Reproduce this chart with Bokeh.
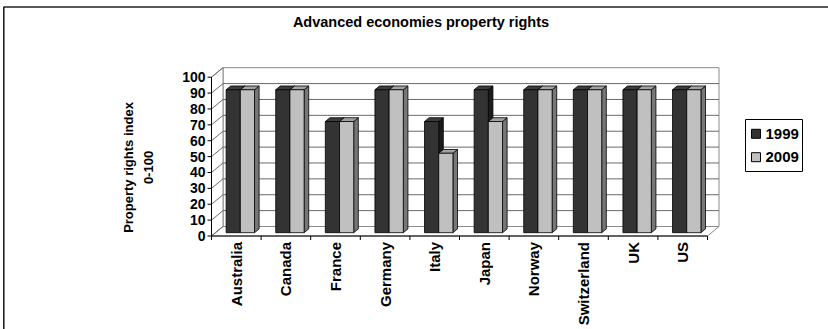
import numpy as np
from bokeh.plotting import figure
from bokeh.models import Range1d
from bokeh.core.properties import value
from bokeh.embed import file_html
from bokeh.resources import INLINE

# ---------------- data ----------------
categories = ["Australia", "Canada", "France", "Germany", "Italy",
              "Japan", "Norway", "Switzerland", "UK", "US"]
v1999 = [90, 90, 70, 90, 70, 90, 90, 90, 90, 90]
v2009 = [90, 90, 70, 90, 50, 70, 90, 90, 90, 90]
series_names = ["1999", "2009"]
y_ticks = [0, 10, 20, 30, 40, 50, 60, 70, 80, 90, 100]
title = "Advanced economies property rights"
y_title = ["Property rights index", "0-100"]

# ---------------- layout (pixels of the 828x329 page) ----------------
W, H = 828, 329
X0, CW = 211.0, 49.6      # px of category-axis start, px per category
Y0, VS = 235.5, 1.588     # px of value 0 (front), px per value unit
DXp, DYp = 11.5, 9.5      # 3-D depth offset in px

def px2x(px):
    return (px - X0) / CW

def px2y(py):
    return (Y0 - py) / VS

DX = DXp / CW
DY = DYp / VS
n = len(categories)
vmax = y_ticks[-1]

p = figure(width=W, height=H, x_range=Range1d(px2x(0), px2x(W)),
           y_range=Range1d(px2y(H), px2y(0)), min_border=0,
           toolbar_location=None, output_backend="svg")
p.axis.visible = False
p.grid.visible = False
p.outline_line_color = None
p.background_fill_color = "white"

FONT = value("Liberation Sans")
GRID = "#6a6a6a"
EDGE = "#8a8a8a"

# outer chart border (top and left edges visible)
p.segment(x0=[px2x(3), px2x(3.3)], y0=[px2y(6.5), px2y(6.5)],
          x1=[px2x(W), px2x(3.3)], y1=[px2y(6.5), px2y(H)],
          line_color="#222222", line_width=1.6)

# walls
p.patch(x=[DX, n + DX, n + DX, DX], y=[DY, DY, vmax + DY, vmax + DY],
        fill_color="white", line_color=EDGE, line_width=1)
p.patch(x=[0, DX, DX, 0], y=[0, DY, vmax + DY, vmax],
        fill_color="white", line_color=EDGE, line_width=1)
p.patch(x=[0, n, n + DX, DX], y=[0, 0, DY, DY],
        fill_color="white", line_color=EDGE, line_width=1)

# gridlines on back wall and side wall
gv = y_ticks[1:-1]
p.segment(x0=[DX] * len(gv), y0=[v + DY for v in gv],
          x1=[n + DX] * len(gv), y1=[v + DY for v in gv],
          line_color=GRID, line_width=1)
p.segment(x0=[0] * len(y_ticks), y0=y_ticks,
          x1=[DX] * len(y_ticks), y1=[v + DY for v in y_ticks],
          line_color=GRID, line_width=1)

# axes lines + ticks
p.segment(x0=[0, 0], y0=[0, 0], x1=[0, n], y1=[vmax, 0],
          line_color="black", line_width=1)
p.segment(x0=[0] * len(y_ticks), y0=y_ticks,
          x1=[px2x(X0 - 4)] * len(y_ticks), y1=y_ticks,
          line_color="black", line_width=1)
p.segment(x0=list(range(n + 1)), y0=[0] * (n + 1),
          x1=list(range(n + 1)), y1=[px2y(Y0 + 4)] * (n + 1),
          line_color="black", line_width=1)

# bars
BW = 14.2 / CW
F0, F1 = 0.35, 0.75
styles = [
    dict(front="#333333", top="#3d3d3d", side="#1c1c1c"),
    dict(front="#c0c0c0", top="#a2a2a2", side="#777777"),
]
for s, vals in enumerate([v1999, v2009]):
    fx, fy = F0 * DX, F0 * DY
    bx, by = F1 * DX, F1 * DY
    lefts = [i + 0.5 - BW + s * BW for i in range(n)]
    rights = [a + BW for a in lefts]
    side_xs = [[b + fx, b + bx, b + bx, b + fx] for b in rights]
    side_ys = [[fy, by, v + by, v + fy] for v in vals]
    top_xs = [[a + fx, b + fx, b + bx, a + bx] for a, b in zip(lefts, rights)]
    top_ys = [[v + fy, v + fy, v + by, v + by] for v in vals]
    st = styles[s]
    p.patches(xs=side_xs, ys=side_ys, fill_color=st["side"],
              line_color="black", line_width=0.8)
    p.patches(xs=top_xs, ys=top_ys, fill_color=st["top"],
              line_color="black", line_width=0.8)
    p.quad(left=[a + fx for a in lefts], right=[b + fx for b in rights],
           bottom=[fy] * n, top=[v + fy for v in vals],
           fill_color=st["front"], line_color="black", line_width=0.8)

# y tick labels
p.text(x=[px2x(X0 - 6)] * len(y_ticks), y=y_ticks,
       text=[str(t) for t in y_ticks], text_font=FONT,
       text_font_style="bold", text_font_size="14px",
       text_align="right", text_baseline="middle", text_color="black")

# category labels (rotated)
p.text(x=[i + 0.5 for i in range(n)], y=[px2y(Y0 + 6)] * n,
       text=categories, angle=np.pi / 2, text_font=FONT,
       text_font_style="bold", text_font_size="15px",
       text_align="right", text_baseline="middle", text_color="black")

# title
p.text(x=[px2x(420.5)], y=[px2y(21.5)], text=[title], text_font=FONT,
       text_font_style="bold", text_font_size="14.5px",
       text_align="center", text_baseline="middle", text_color="black")

# y axis title (two lines, rotated)
p.text(x=[px2x(128), px2x(148)], y=[px2y(167), px2y(167)], text=y_title,
       angle=np.pi / 2, text_font=FONT, text_font_style="bold",
       text_font_size="13px", text_align="center", text_baseline="middle",
       text_color="black")

# legend
p.quad(left=[px2x(745)], right=[px2x(802)], bottom=[px2y(171)],
       top=[px2y(119)], fill_color="white", line_color="black", line_width=1)
leg_y = [133.3, 156.7]
p.quad(left=[px2x(751)] * 2, right=[px2x(760)] * 2,
       bottom=[px2y(y + 4.5) for y in leg_y], top=[px2y(y - 4.5) for y in leg_y],
       fill_color=[styles[0]["front"], styles[1]["front"]],
       line_color="black", line_width=1)
p.text(x=[px2x(765)] * 2, y=[px2y(y) for y in leg_y], text=series_names,
       text_font=FONT, text_font_style="bold", text_font_size="15px",
       text_align="left", text_baseline="middle", text_color="black")

open("out.html", "w").write(file_html(p, INLINE))
